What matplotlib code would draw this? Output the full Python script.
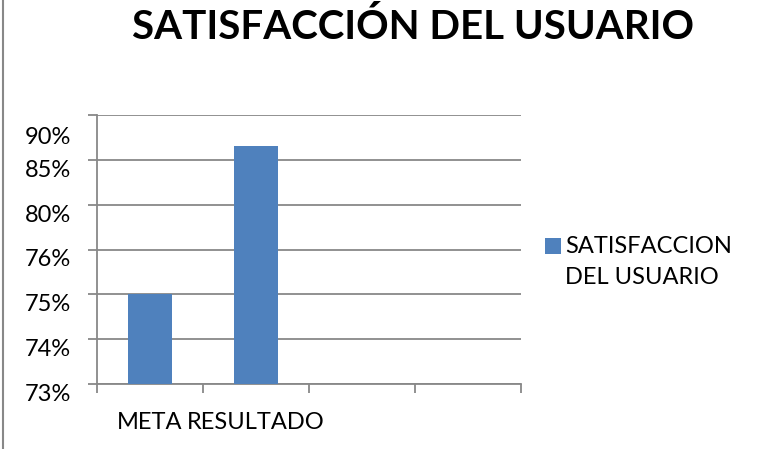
import matplotlib.pyplot as plt
import numpy as np
from matplotlib import transforms
from matplotlib.lines import Line2D
from matplotlib.patches import Rectangle
from matplotlib.legend_handler import HandlerPatch, update_from_first_child

# datos
categorias = ['META', 'RESULTADO', '', '']
satisfaccion = [75, 86.5]
marcas_y = [73, 74, 75, 76, 80, 85, 90]
etiquetas_y = ['73%', '74%', '75%', '76%', '80%', '85%', '90%']
serie = 'SATISFACCION\nDEL USUARIO'

azul = '#4F81BD'
gris = '#888888'

plt.rcParams['font.family'] = ['Lato', 'DejaVu Sans']


# el eje de Excel reparte las marcas a la misma distancia
def ida(v):
  return np.interp(v, marcas_y, np.arange(len(marcas_y)))

def vuelta(p):
  return np.interp(p, np.arange(len(marcas_y)), marcas_y)


# cuadrado de la leyenda a la altura de la primera linea
def cuadro_arriba(legend, orig_handle, xdescent, ydescent, width, height, fontsize):
  return Rectangle((-xdescent, -ydescent + 0.7 * fontsize), width, height)


fig = plt.figure(figsize=(7.72, 4.49), dpi=100)
ax = fig.add_axes([97/772, 65/449, 424/772, 269/449])
ax.set_yscale('function', functions=(ida, vuelta))
ax.set_ylim(marcas_y[0], marcas_y[-1])
ax.set_xlim(0, len(categorias))

x = np.arange(len(satisfaccion)) + 0.5
base = marcas_y[0]
barras = ax.bar(x, np.array(satisfaccion) - base, bottom=base, width=0.41,
                color=azul, label=serie, zorder=3)

# eje y
ax.set_yticks(marcas_y, etiquetas_y)
ax.yaxis.grid(True, color=gris, lw=1.3, zorder=1)
ax.tick_params(axis='y', length=6.5, width=1.3, color=gris, pad=12,
               labelsize=17, direction='out')
for t in ax.get_yticklabels():
  t.set_va('top')
# la etiqueta de arriba sale mas baja en el original
bajar = transforms.ScaledTranslation(0, -12/100, fig.dpi_scale_trans)
ax.get_yticklabels()[-1].set_transform(ax.get_yticklabels()[-1].get_transform() + bajar)

# eje x
ax.set_xticks(np.arange(len(categorias) + 1), [''] * (len(categorias) + 1))
ax.set_xticks(np.arange(len(categorias)) + 0.5, categorias, minor=True)
ax.tick_params(axis='x', which='major', length=6.5, width=1.3, color=gris, direction='out')
ax.tick_params(axis='x', which='minor', length=0, pad=20, labelsize=17)

for lado in ['top', 'right']:
  ax.spines[lado].set_visible(False)
for lado in ['left', 'bottom']:
  ax.spines[lado].set_color(gris)
  ax.spines[lado].set_linewidth(1.3)

manejador = HandlerPatch(patch_func=cuadro_arriba, update_func=update_from_first_child)
leg = ax.legend(loc='center left', bbox_to_anchor=(524/772, 1 - 262/449),
                bbox_transform=fig.transFigure, frameon=False, fontsize=17,
                handlelength=0.65, handleheight=0.65, handletextpad=0.2,
                handler_map={type(barras): manejador})
for t in leg.get_texts():
  t.set_linespacing(1.6)

fig.text(413/772, 1 - 27/449, 'SATISFACCIÓN DEL USUARIO', ha='center',
         va='center', fontsize=29, fontweight='bold')

# linea gris del borde izquierdo
fig.add_artist(Line2D([3.5/772, 3.5/772], [0, 1], transform=fig.transFigure,
                      color=gris, lw=1.5))

fig.savefig('out.png', dpi=100)
